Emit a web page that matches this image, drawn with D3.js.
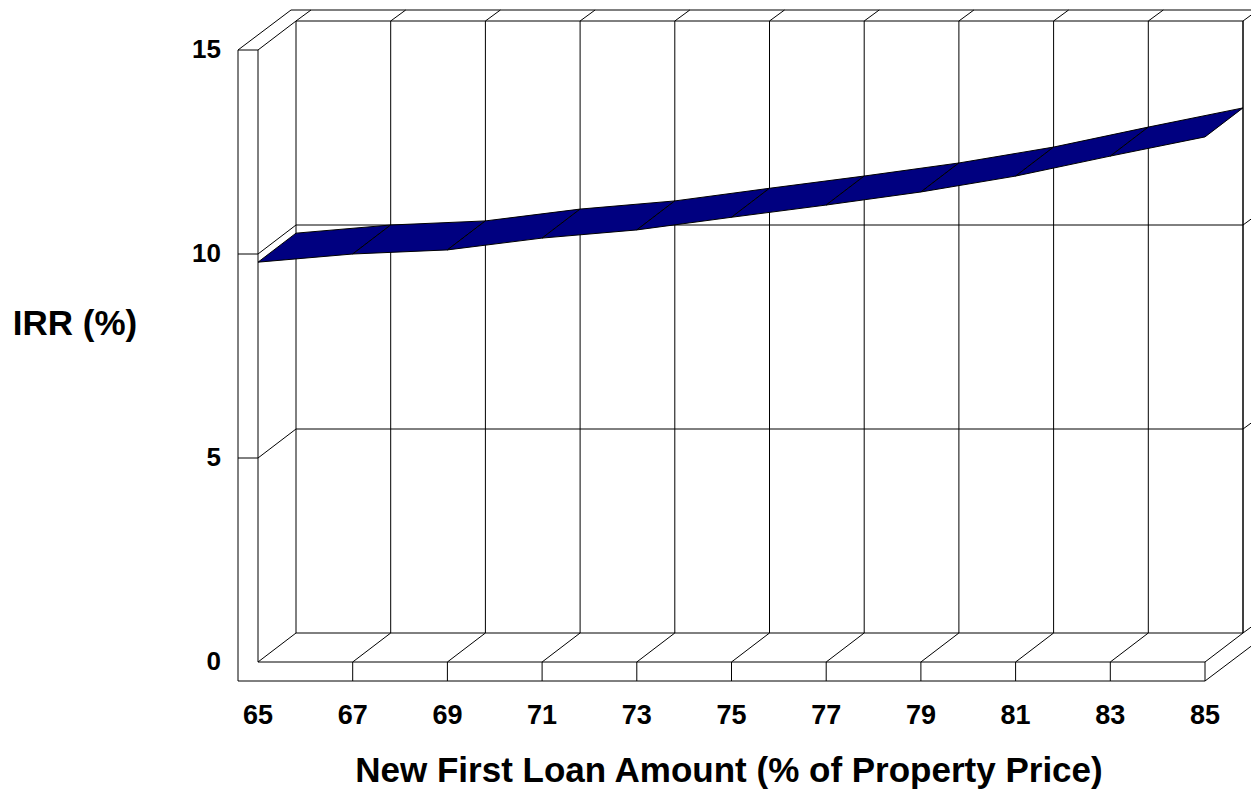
<!DOCTYPE html>
<html>
<head>
<meta charset="utf-8">
<script src="https://cdn.jsdelivr.net/npm/d3@7"></script>
<style>
  html, body { margin: 0; padding: 0; background: #fff; }
  svg { display: block; }
  text { font-family: "Liberation Sans", Arial, sans-serif; font-weight: bold; fill: #000; }
</style>
</head>
<body>
<svg id="chart" width="1251" height="791"></svg>
<script>
// Loan amount as % of property price
const categories = [65, 67, 69, 71, 73, 75, 77, 79, 81, 83, 85];
// IRR (%) at each loan amount
const irrValues = [9.80, 10.00, 10.10, 10.39, 10.59, 10.90, 11.20, 11.52, 11.91, 12.40, 12.87];
const valueTicks = [0, 5, 10, 15];
const xTitle = "New First Loan Amount (% of Property Price)";
const yTitle = "IRR (%)";

const svg = d3.select("#chart");

// Front-plane scales; the back plane is the front plane shifted by the depth vector.
const x = d3.scalePoint().domain(categories).range([258, 1205]);
const y = d3.scaleLinear().domain([0, 15]).range([662, 50]);
const DX = 38, DY = -29;          // plot depth
const WX = 15, WY = -11;          // back wall thickness
const LW = 20;                    // left wall thickness
const FT = 19;                    // floor thickness

const x0 = x(categories[0]), x1 = x(categories[categories.length - 1]);
const yTop = y(15), yBase = y(0);

const line = (g, pts, w = 1, col = "#000") =>
  g.append("path").attr("d", d3.line()(pts)).attr("fill", "none")
   .attr("stroke", col).attr("stroke-width", w);

const frame = svg.append("g");

// Left wall slab outline
line(frame, [[x0 - LW, yBase + FT], [x0 - LW, yTop], [x0, yTop], [x0, yBase]]);
line(frame, [[x0 - LW, yTop], [x0 - LW + DX + WX, yTop + DY + WY], [1300, yTop + DY + WY]]);
line(frame, [[x0, yTop], [x0 + DX, yTop + DY], [x1 + DX, yTop + DY], [x1 + DX, yBase + DY]]);

// Floor slab
line(frame, [[x0 - LW, yBase + FT], [x1, yBase + FT], [x1, yBase], [x0, yBase]]);
line(frame, [[x1, yBase], [x1 + DX, yBase + DY]]);
line(frame, [[x1, yBase + FT], [x1 + DX + WX, yBase + FT + DY + WY]]);
line(frame, [[x0 + DX, yBase + DY], [x1 + DX, yBase + DY], [x1 + DX + WX, yBase + DY + WY]]);

// Category grid: floor front face, floor top, back wall, wall top
categories.forEach((c, i) => {
  const cx = x(c);
  if (i > 0 && i < categories.length - 1) line(frame, [[cx, yBase], [cx, yBase + FT]]);
  if (i < categories.length - 1) line(frame, [[cx, yBase], [cx + DX, yBase + DY]]);
  line(frame, [[cx + DX, yBase + DY], [cx + DX, yTop + DY], [cx + DX + WX, yTop + DY + WY]]);
});

// Value grid: left wall front face, left wall, back wall, wall edge
valueTicks.filter(v => v > 0 && v < 15).forEach(v => {
  const vy = y(v);
  line(frame, [[x0 - LW, vy], [x0, vy], [x0 + DX, vy + DY], [x1 + DX, vy + DY], [x1 + DX + WX, vy + DY + WY]]);
});

// IRR ribbon, drawn segment by segment from left to right
const ribbon = svg.append("g");
const pts = categories.map((c, i) => ({ fx: x(c), fy: y(irrValues[i]) }));
for (let i = 0; i < pts.length - 1; i++) {
  const a = pts[i], b = pts[i + 1];
  ribbon.append("path")
    .attr("d", d3.line()([[a.fx, a.fy], [b.fx, b.fy], [b.fx + DX, b.fy + DY], [a.fx + DX, a.fy + DY]]) + "Z")
    .attr("fill", "#000080").attr("stroke", "#000").attr("stroke-width", 1)
    .attr("stroke-linejoin", "round");
}

// Value axis labels
svg.append("g").selectAll("text").data(valueTicks).join("text")
  .attr("x", 221).attr("y", d => y(d) + 8)
  .attr("text-anchor", "end").attr("font-size", 26)
  .text(d => d);

// Category axis labels
svg.append("g").selectAll("text").data(categories).join("text")
  .attr("x", d => x(d)).attr("y", 724)
  .attr("text-anchor", "middle").attr("font-size", 27)
  .text(d => d);

// Axis titles
svg.append("text").attr("x", 729).attr("y", 782)
  .attr("text-anchor", "middle").attr("font-size", 35).text(xTitle);
svg.append("text").attr("x", 75).attr("y", 335)
  .attr("text-anchor", "middle").attr("font-size", 35).text(yTitle);
</script>
</body>
</html>
